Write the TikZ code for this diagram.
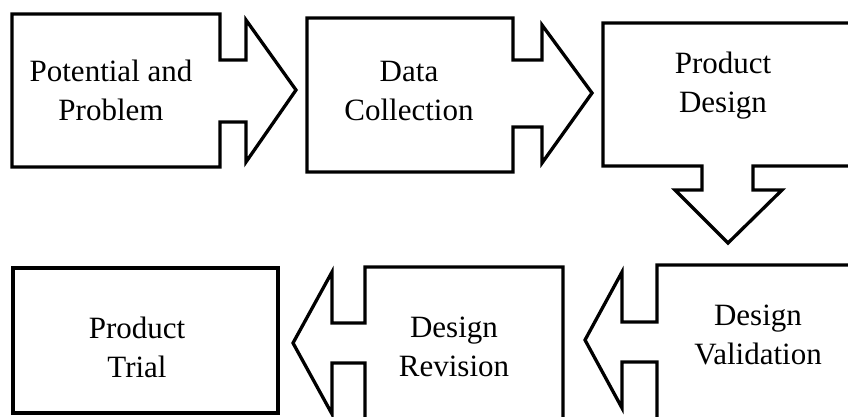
\documentclass[tikz,border=0pt]{standalone}
\usepackage{fontspec}
\setmainfont{Liberation Serif}
\begin{document}
\begin{tikzpicture}[x=1pt,y=-1pt,
  shapeline/.style={draw=black,line width=3.3pt,line join=miter,fill=white},
  label/.style={align=center,font=\fontsize{31}{39}\selectfont,inner sep=0pt}]
\useasboundingbox (0,0) rectangle (848,416);
\clip (0,0) rectangle (848,416);
% 1 Potential and Problem (arrow right)
\draw[shapeline] (12,14) -- (220,14) -- (220,60) -- (246,60) -- (246,20) -- (296,90)
  -- (246,162) -- (246,122) -- (220,122) -- (220,167) -- (12,167) -- cycle;
% 2 Data Collection (arrow right)
\draw[shapeline] (307,18) -- (513,18) -- (513,60) -- (542,60) -- (542,25) -- (592,93)
  -- (542,163) -- (542,127) -- (513,127) -- (513,172) -- (307,172) -- cycle;
% 3 Product Design (arrow down)
\draw[shapeline] (603,23) -- (853,23) -- (853,166) -- (753,166) -- (753,190) -- (782,190)
  -- (728,243) -- (675,190) -- (702,190) -- (702,166) -- (603,166) -- cycle;
% 4 Design Validation (arrow left)
\draw[shapeline] (860,265) -- (657,265) -- (657,322) -- (622,322) -- (622,272) -- (585,340)
  -- (622,408) -- (622,362) -- (657,362) -- (657,430) -- (860,430) -- cycle;
% 5 Design Revision (arrow left)
\draw[shapeline] (563,267) -- (365,267) -- (365,323) -- (332,323) -- (332,272) -- (293,343)
  -- (332,414) -- (332,363) -- (365,363) -- (365,430) -- (563,430) -- cycle;
% 6 Product Trial (box)
\draw[shapeline] (13,268) rectangle (278,413);
% labels
\node[label] (t1) at (111,90) {Potential and\\Problem};
\node[label] (t2) at (409,91) {Data\\Collection};
\node[label] (t3) at (723,86) {Product\\Design};
\node[label] (t4) at (758,335) {Design\\Validation};
\node[label] (t5) at (454,347) {Design\\Revision};
\node[label] (t6) at (137,347) {Product\\Trial};
\end{tikzpicture}
\end{document}
